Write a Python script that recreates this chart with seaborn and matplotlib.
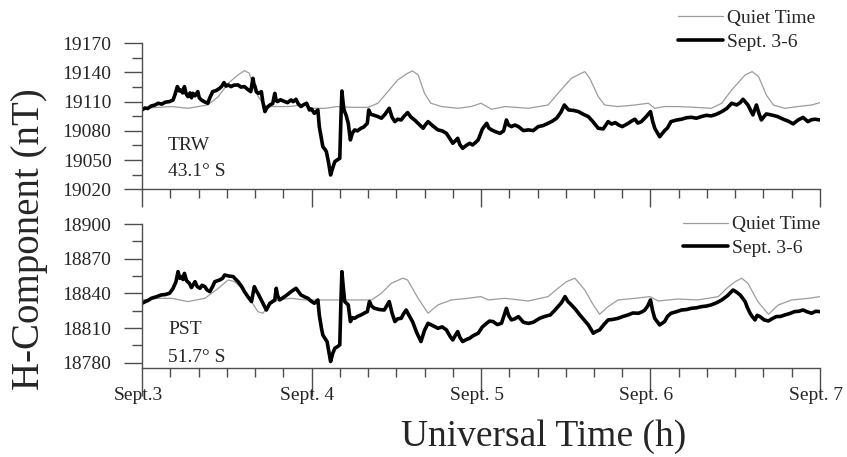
import matplotlib
matplotlib.use("Agg")
import matplotlib.pyplot as plt
import matplotlib.transforms as mtransforms
import numpy as np
import pandas as pd
import seaborn as sns

# ---------------------------------------------------------------- data
day_ticks = [0, 24, 48, 72, 96]
day_labels = ["Sept.3", "Sept. 4", "Sept. 5", "Sept. 6", "Sept. 7"]

trw_yticks = [19020, 19050, 19080, 19110, 19140, 19170]
pst_yticks = [18780, 18810, 18840, 18870, 18900]

# TRW (43.1 S) - storm days, hours from Sept. 3 00 UT
trw_storm_h = [0, 0.4, 0.8, 1.3, 1.8, 2.3, 2.8, 3.3, 3.9, 4.4, 4.7, 5.0, 5.3, 5.5, 5.75,
               6.0, 6.25, 6.5, 6.8, 7.0, 7.2, 7.5, 7.9, 8.1, 8.4, 8.8, 9.3, 9.6, 10.0,
               10.5, 11.0, 11.3, 11.6, 11.9, 12.2, 12.6, 13.0, 13.6, 14.0, 14.5, 14.9,
               15.4, 15.7, 15.85, 16.0, 16.2, 16.5, 16.9, 17.1, 17.4, 17.7, 18.1, 18.5,
               18.8, 19.0, 19.2, 19.6, 20.2, 20.6, 21.1, 21.4, 21.8, 22.1, 22.5, 22.9,
               23.3, 23.7, 24.0, 24.4, 24.9, 25.1, 25.4, 25.6, 25.9, 26.1, 26.4, 26.7,
               27.0, 27.3, 27.7, 28.0, 28.15, 28.3, 28.45, 28.6, 28.9, 29.2, 29.5,
               29.8, 30.1, 30.5, 31.0, 31.4, 31.9, 32.1, 32.4, 32.7, 33.3, 33.9, 34.4,
               35.0, 35.4, 35.8, 36.2, 36.7, 37.1, 37.6, 38.1, 38.6, 39.2, 39.8, 40.1,
               40.5, 41.2, 41.9, 42.5, 43.1, 43.6, 44.0, 44.4, 44.7, 45.0, 45.4, 45.9,
               46.4, 46.8, 47.1, 47.6, 48.2, 48.8, 49.1, 49.5, 50.1, 50.7, 51.2, 51.6,
               51.9, 52.3, 52.8, 53.3, 54.0, 54.7, 55.4, 56.1, 56.8, 57.5, 58.1, 58.7,
               59.3, 59.8, 60.4, 61.1, 61.8, 62.5, 63.2, 63.9, 64.6, 65.3, 66.0, 66.5,
               67.0, 67.5, 68.0, 68.8, 69.3, 69.8, 70.2, 70.7, 71.4, 72.0, 72.3, 72.6,
               73.3, 74.0, 74.4, 74.9, 75.6, 76.4, 77.1, 77.8, 78.5, 79.2, 79.9, 80.6,
               81.3, 82.1, 82.8, 83.5, 84.2, 84.7, 85.1, 85.8, 86.5, 87.0, 87.4, 87.7,
               88.0, 88.4, 89.1, 90.0, 90.8, 91.5, 92.2, 92.9, 93.6, 94.3, 94.8, 95.3,
               96.0]
trw_storm_v = [19101.5, 19103.5, 19103.0, 19105.6, 19106.5, 19108.4, 19107.5, 19109.5,
               19110.1, 19111.8, 19118.0, 19125.5, 19121.0, 19122.0, 19119.0, 19125.5,
               19118.0, 19115.2, 19119.0, 19114.0, 19118.6, 19116.0, 19120.3, 19114.0,
               19111.8, 19110.0, 19108.4, 19114.0, 19120.3, 19121.5, 19123.8, 19126.0,
               19129.6, 19126.0, 19127.2, 19125.5, 19127.0, 19127.2, 19125.0, 19125.5,
               19123.0, 19120.3, 19134.0, 19128.0, 19125.5, 19120.0, 19118.6, 19120.3,
               19110.0, 19099.8, 19104.0, 19106.6, 19108.0, 19118.6, 19111.0, 19110.1,
               19112.0, 19110.1, 19109.0, 19111.8, 19110.0, 19112.5, 19108.0, 19105.0,
               19107.0, 19108.4, 19101.5, 19102.5, 19098.0, 19101.5, 19084.4, 19072.0,
               19063.8, 19061.0, 19058.7, 19048.0, 19034.7, 19042.0, 19048.4, 19050.5,
               19051.8, 19090.0, 19121.0, 19110.0, 19101.5, 19096.0, 19087.8, 19070.7,
               19078.0, 19081.0, 19080.0, 19082.7, 19084.0, 19087.8, 19101.5, 19097.0,
               19096.4, 19095.0, 19093.0, 19097.0, 19103.2, 19094.0, 19089.5, 19092.0,
               19091.2, 19095.0, 19098.8, 19094.0, 19091.2, 19087.0, 19082.7, 19086.0,
               19089.5, 19085.0, 19081.0, 19080.0, 19077.5, 19072.0, 19067.3, 19070.0,
               19072.4, 19066.0, 19062.1, 19065.0, 19067.3, 19065.5, 19067.3, 19070.7,
               19082.0, 19087.8, 19083.0, 19081.0, 19079.0, 19077.5, 19080.0, 19091.2,
               19086.0, 19084.4, 19086.0, 19084.4, 19080.3, 19081.0, 19080.3, 19084.4,
               19085.5, 19087.8, 19090.0, 19093.0, 19099.0, 19106.6, 19101.5, 19101.0,
               19099.8, 19097.0, 19094.7, 19089.0, 19082.7, 19082.0, 19089.5, 19087.0,
               19088.5, 19086.0, 19084.4, 19087.5, 19090.0, 19092.0, 19088.0, 19089.5,
               19094.7, 19099.8, 19090.0, 19082.7, 19074.0, 19080.3, 19083.0, 19089.5,
               19091.0, 19092.0, 19093.5, 19094.0, 19093.0, 19094.7, 19096.0, 19095.4,
               19097.0, 19099.8, 19103.0, 19108.4, 19106.6, 19109.0, 19112.5, 19106.6,
               19096.4, 19106.6, 19097.0, 19091.2, 19094.0, 19097.4, 19096.4, 19094.7,
               19092.0, 19090.0, 19087.2, 19091.2, 19093.8, 19089.5, 19091.5, 19092.0,
               19091.2]

# TRW - quiet-time reference
trw_quiet_h = [0, 4.2, 6.5, 9.3, 10.8, 12.2, 13.6, 14.5, 15.2, 15.9, 16.6, 17.6,
               18.8, 20.7, 23.0, 24.0, 25.9, 27.7, 29.6, 32.0, 33.4, 34.8, 36.2,
               37.6, 38.3, 39.1, 40.0, 40.9, 42.4, 44.7, 46.6, 48.0, 49.5, 51.4,
               54.7, 57.5, 58.9, 60.8, 62.2, 62.7, 63.4, 64.6, 65.5, 67.4, 69.8,
               71.7, 72.6, 74.0, 75.9, 78.3, 80.6, 82.1, 83.5, 85.4, 86.4, 87.3,
               88.4, 89.4, 91.0, 92.9, 94.8, 96.0]
trw_quiet_v = [19103.2, 19105.0, 19103.2, 19106.6, 19115.2, 19128.9, 19137.5, 19141.9,
               19139.2, 19122.1, 19113.5, 19105.0, 19105.0, 19105.0, 19106.6, 19103.2,
               19103.2, 19105.0, 19104.2, 19104.2, 19108.4, 19120.3, 19132.3, 19139.2,
               19141.6, 19137.5, 19118.6, 19108.4, 19105.0, 19103.2, 19105.0, 19108.4,
               19102.2, 19105.0, 19103.2, 19106.6, 19118.6, 19134.0, 19139.2, 19140.9,
               19134.0, 19115.2, 19106.6, 19105.0, 19106.6, 19108.4, 19103.2, 19105.0,
               19105.0, 19104.2, 19103.2, 19108.4, 19122.1, 19137.5, 19140.9, 19135.8,
               19116.9, 19106.6, 19103.2, 19105.0, 19106.6, 19109.0]

# PST (51.7 S) - storm days
pst_storm_h = [0, 0.5, 0.9, 1.3, 2.0, 2.7, 3.3, 3.9, 4.4, 4.8, 5.1, 5.35, 5.6, 5.8, 6.0,
               6.3, 6.7, 7.0, 7.5, 7.8, 8.2, 8.5, 8.9, 9.2, 9.6, 10.0, 10.3, 11.0, 11.4,
               11.7, 12.3, 12.9, 13.6, 14.1, 14.5, 15.0, 15.5, 15.9, 16.2, 16.4, 17.0,
               17.6, 18.1, 18.5, 18.8, 19.0, 19.2, 19.5, 20.2, 20.6, 21.1, 21.8, 22.2,
               22.5, 23.0, 23.5, 24.0, 24.4, 24.9, 25.1, 25.4, 25.6, 25.9, 26.2, 26.5,
               26.7, 27.0, 27.3, 27.7, 28.0, 28.15, 28.3, 28.5, 28.7, 29.2, 29.5, 29.8,
               30.1, 30.5, 31.0, 31.5, 31.9, 32.2, 32.5, 32.9, 33.6, 34.3, 35.0, 35.4,
               35.8, 36.2, 36.7, 37.0, 37.4, 37.8, 38.3, 38.9, 39.5, 40.0, 40.5, 41.2,
               41.9, 42.5, 43.1, 43.6, 44.0, 44.4, 44.7, 45.0, 45.4, 45.9, 46.4, 46.8,
               47.1, 47.6, 48.2, 48.8, 49.2, 49.7, 50.3, 50.9, 51.6, 51.9, 52.3, 52.8,
               53.3, 54.0, 54.7, 55.4, 56.3, 57.0, 57.8, 58.4, 58.9, 59.4, 59.9, 60.3,
               60.8, 61.4, 62.0, 62.6, 63.2, 63.9, 64.3, 64.8, 65.4, 66.0, 66.7, 67.4,
               68.1, 68.8, 69.5, 70.3, 70.8, 71.2, 71.6, 72.0, 72.3, 72.6, 73.3, 74.0,
               74.4, 74.9, 75.6, 76.4, 77.1, 77.8, 78.5, 79.2, 79.9, 80.6, 81.4, 82.1,
               82.9, 83.7, 84.2, 84.7, 85.4, 85.7, 86.1, 86.4, 86.8, 87.1, 87.5, 88.1,
               88.7, 89.2, 89.8, 90.4, 91.0, 91.7, 92.4, 93.0, 93.6, 94.2, 94.8, 95.4,
               96.0]
pst_storm_v = [18831.4, 18833.0, 18834.0, 18835.7, 18837.0, 18838.6, 18839.0, 18840.1,
               18844.4, 18850.0, 18858.8, 18853.0, 18854.5, 18852.0, 18857.3, 18851.0,
               18848.7, 18845.0, 18850.1, 18846.0, 18844.4, 18847.0, 18845.8, 18843.0,
               18841.5, 18846.0, 18850.1, 18851.6, 18853.0, 18855.9, 18855.0, 18854.5,
               18850.1, 18846.0, 18841.5, 18837.0, 18832.9, 18845.8, 18842.0, 18840.1,
               18832.9, 18825.6, 18831.4, 18833.0, 18834.3, 18844.4, 18838.0, 18834.3,
               18837.2, 18839.0, 18841.5, 18844.4, 18841.0, 18838.6, 18837.0, 18835.7,
               18833.0, 18831.4, 18834.3, 18821.3, 18810.0, 18804.0, 18801.0, 18798.3,
               18788.0, 18781.0, 18788.0, 18792.5, 18794.0, 18795.4, 18830.0, 18858.8,
               18845.0, 18832.9, 18830.0, 18815.6, 18819.0, 18818.4, 18820.0, 18821.3,
               18823.0, 18824.2, 18832.9, 18829.0, 18827.1, 18826.0, 18825.6, 18832.9,
               18823.0, 18815.6, 18818.0, 18818.4, 18822.0, 18825.6, 18821.0, 18815.6,
               18806.0, 18798.3, 18808.0, 18814.1, 18812.0, 18809.8, 18811.0, 18808.4,
               18803.0, 18799.7, 18804.0, 18806.9, 18802.0, 18798.3, 18800.0, 18801.2,
               18803.0, 18804.0, 18805.5, 18811.0, 18814.1, 18816.0, 18815.6, 18813.0,
               18814.1, 18827.1, 18821.0, 18817.0, 18818.0, 18819.9, 18815.0, 18814.0,
               18815.0, 18818.4, 18820.0, 18821.3, 18825.0, 18828.5, 18832.0, 18837.2,
               18833.0, 18830.0, 18826.0, 18821.3, 18817.0, 18812.7, 18805.5, 18807.0,
               18808.4, 18813.0, 18817.0, 18817.5, 18818.4, 18820.0, 18821.3, 18823.0,
               18822.8, 18824.0, 18825.6, 18829.0, 18834.3, 18825.0, 18818.4, 18812.7,
               18815.6, 18820.0, 18822.8, 18824.0, 18825.6, 18826.0, 18827.1, 18827.5,
               18828.5, 18829.0, 18830.0, 18832.0, 18834.3, 18838.0, 18842.9, 18841.0,
               18838.6, 18832.9, 18828.0, 18822.8, 18820.0, 18817.0, 18821.0, 18819.9,
               18817.0, 18816.1, 18818.0, 18819.9, 18820.0, 18821.3, 18822.5, 18824.2,
               18824.5, 18825.6, 18824.0, 18822.8, 18824.5, 18824.2]

# PST - quiet-time reference
pst_quiet_h = [0, 2.3, 4.2, 6.5, 8.9, 10.8, 12.2, 13.1, 14.1, 15.5, 16.4, 17.1,
               18.1, 19.2, 21.1, 23.0, 25.9, 28.7, 32.5, 33.9, 35.3, 36.9, 37.6,
               39.1, 40.5, 41.9, 43.8, 46.1, 48.0, 49.0, 51.4, 54.7, 57.5, 58.9,
               60.1, 61.3, 62.7, 63.9, 64.8, 66.0, 67.4, 69.8, 71.9, 73.1, 75.9,
               78.7, 81.6, 82.8, 84.0, 84.9, 85.8, 87.2, 88.7, 90.1, 92.0, 94.4,
               96.0]
pst_quiet_v = [18834.3, 18835.7, 18835.7, 18832.9, 18835.7, 18844.4, 18851.6, 18850.1,
               18844.4, 18832.9, 18824.2, 18822.8, 18830.0, 18834.3, 18835.7, 18834.3,
               18834.3, 18834.3, 18834.3, 18840.1, 18848.7, 18853.1, 18851.6, 18835.7,
               18822.8, 18830.0, 18834.3, 18835.7, 18837.2, 18834.3, 18835.7, 18833.4,
               18837.2, 18844.4, 18850.1, 18853.1, 18842.9, 18830.0, 18821.9, 18828.5,
               18834.3, 18835.7, 18837.2, 18833.4, 18835.1, 18834.3, 18837.2, 18844.4,
               18850.1, 18853.1, 18848.7, 18832.9, 18821.9, 18830.0, 18834.3, 18835.7,
               18837.2]

# ---------------------------------------------------------------- style
sns.set_style("ticks")
plt.rcParams["font.family"] = ["Liberation Serif", "DejaVu Serif"]
AXIS_COLOR = "#4d4d4d"
QUIET_COLOR = "#9c9c9c"

fig = plt.figure(figsize=(8.47, 4.57), dpi=100)
ax_trw = fig.add_axes([0.1677, 0.5858, 0.8004, 0.3195])
ax_pst = fig.add_axes([0.1677, 0.1937, 0.8004, 0.3161])


def draw_panel(ax, qh, qv, sh, sv):
    quiet = pd.DataFrame({"hour": qh, "nT": qv})
    storm = pd.DataFrame({"hour": sh, "nT": sv})
    sns.lineplot(data=quiet, x="hour", y="nT", ax=ax, color=QUIET_COLOR,
                 linewidth=0.9, estimator=None, label="Quiet Time")
    sns.lineplot(data=storm, x="hour", y="nT", ax=ax, color="black",
                 linewidth=2.6, estimator=None, label="Sept. 3-6")
    ax.set_xlabel("")
    ax.set_ylabel("")
    ax.set_xlim(0, 96)
    ax.set_xticks(day_ticks)
    ax.set_xticks(np.arange(0, 97, 4), minor=True)
    for side in ("top", "right"):
        ax.spines[side].set_visible(False)
    for side in ("left", "bottom"):
        ax.spines[side].set_color(AXIS_COLOR)
        ax.spines[side].set_linewidth(1.0)
    ax.tick_params(axis="y", which="major", length=13, width=1, color=AXIS_COLOR,
                   labelsize=14, pad=9, direction="out")
    ax.tick_params(axis="y", which="minor", length=7, width=1, color=AXIS_COLOR,
                   direction="out")
    ax.tick_params(axis="x", which="minor", length=6.5, width=1, color=AXIS_COLOR,
                   direction="out")


draw_panel(ax_trw, trw_quiet_h, trw_quiet_v, trw_storm_h, trw_storm_v)
draw_panel(ax_pst, pst_quiet_h, pst_quiet_v, pst_storm_h, pst_storm_v)

# TRW axis
ax_trw.set_ylim(19020, 19170)
ax_trw.set_yticks(trw_yticks)
ax_trw.set_yticks(np.arange(19035, 19170, 30), minor=True)
ax_trw.set_xticklabels([])
ax_trw.tick_params(axis="x", which="major", length=13, width=1, color=AXIS_COLOR,
                   direction="out")

# PST axis
ax_pst.set_ylim(18775, 18900)
ax_pst.set_yticks(pst_yticks)
ax_pst.set_yticks(np.arange(18795, 18900, 30), minor=True)
ax_pst.set_xticklabels(day_labels)
ax_pst.tick_params(axis="x", which="major", length=20, width=1, color=AXIS_COLOR,
                   labelsize=14, pad=-6.5, direction="out")
shift = mtransforms.ScaledTranslation(-4 / 100, 0, fig.dpi_scale_trans)
for lab in ax_pst.get_xticklabels():
    lab.set_transform(lab.get_transform() + shift)

# legends
for ax, anchor in ((ax_trw, (0.962, 0.979)), (ax_pst, (0.968, 0.528))):
    ax.legend(loc="upper right", bbox_to_anchor=anchor, bbox_transform=fig.transFigure,
              frameon=False, fontsize=14, handlelength=2.3, handletextpad=0.2,
              labelspacing=0.3, borderpad=0, borderaxespad=0)

# station labels
fig.text(168 / 847, 1 - 145 / 457, "TRW", fontsize=14, va="center", ha="left")
fig.text(168 / 847, 1 - 172 / 457, "43.1° S", fontsize=14, va="center", ha="left")
fig.text(168 / 847, 1 - 330 / 457, "PST", fontsize=14, va="center", ha="left")
fig.text(168 / 847, 1 - 358 / 457, "51.7° S", fontsize=14, va="center", ha="left")

# axis titles
fig.text(30 / 847, 0.477, "H-Component (nT)", rotation=90, fontsize=28,
         va="center", ha="center")
fig.text(544 / 847, 1 - 437 / 457, "Universal Time (h)", fontsize=27,
         va="center", ha="center")

fig.savefig("out.png", dpi=100)
